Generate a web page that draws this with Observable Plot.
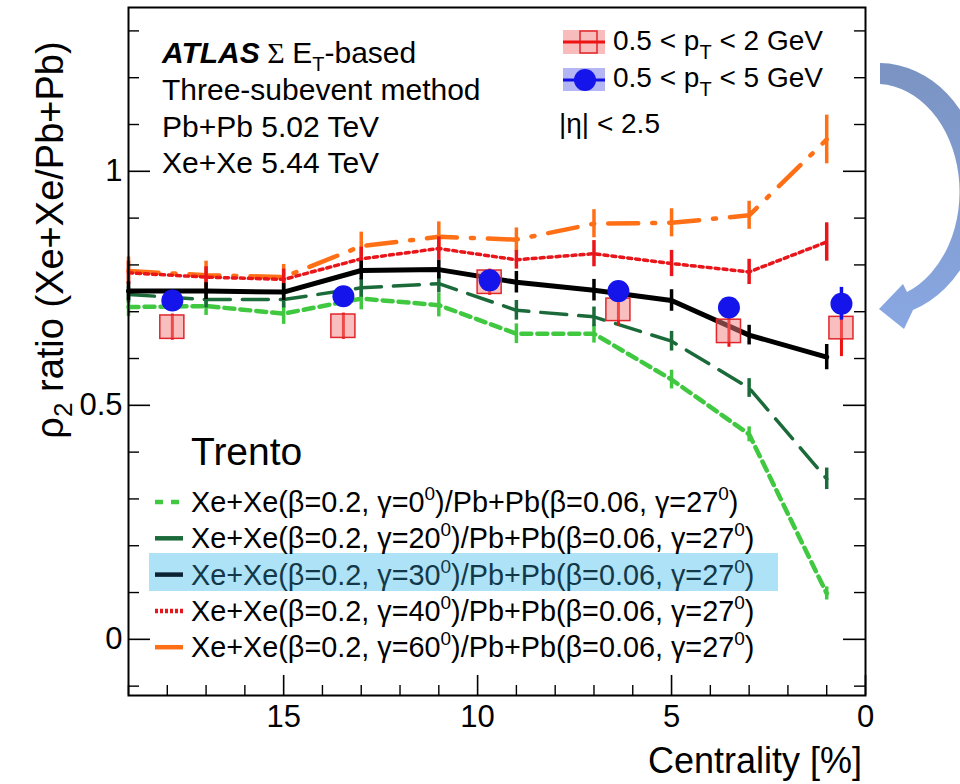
<!DOCTYPE html>
<html><head><meta charset="utf-8">
<script src="https://cdn.jsdelivr.net/npm/d3@7"></script>
<script src="https://cdn.jsdelivr.net/npm/@observablehq/plot@0.6"></script>
<style>
body{margin:0;background:#fff;}
#wrap{position:relative;width:960px;height:784px;overflow:hidden;}
#wrap svg{position:absolute;left:0;top:0;}
</style></head><body><div id="wrap"></div>
<script>
// ---------- data ----------
const modelX = [19, 17, 15, 13, 11, 9, 7, 5, 3, 1];
const gammaLabels = ["0", "20", "30", "40", "60"];
const g0   = [0.710, 0.712, 0.696, 0.728, 0.714, 0.653, 0.653, 0.555, 0.438, 0.098];
const g0Err = [0.020, 0.020, 0.023, 0.024, 0.025, 0.021, 0.020, 0.020, 0.016, 0.014];
const g20  = [0.737, 0.726, 0.726, 0.751, 0.760, 0.703, 0.689, 0.637, 0.537, 0.343];
const g20Err = [0.018, 0.018, 0.018, 0.020, 0.020, 0.021, 0.021, 0.021, 0.020, 0.023];
const g30  = [0.744, 0.744, 0.742, 0.788, 0.790, 0.763, 0.746, 0.724, 0.650, 0.603];
const g30Err = [0.020, 0.018, 0.018, 0.020, 0.020, 0.023, 0.023, 0.023, 0.021, 0.027];
const g40  = [0.783, 0.774, 0.769, 0.813, 0.835, 0.811, 0.824, 0.803, 0.785, 0.849];
const g40Err = [0.025, 0.022, 0.022, 0.025, 0.025, 0.020, 0.028, 0.028, 0.027, 0.041];
const g60  = [0.787, 0.778, 0.774, 0.840, 0.860, 0.854, 0.888, 0.890, 0.906, 1.068];
const g60Err = [0.030, 0.030, 0.027, 0.030, 0.032, 0.025, 0.030, 0.030, 0.030, 0.052];

const dataX = [17.87, 13.46, 9.69, 6.37, 3.52, 0.62];
const blueY = [0.724, 0.733, 0.767, 0.744, 0.709, 0.717];
const blueStat = [0.015, 0.015, 0.015, 0.015, 0.015, 0.035];
const redY = [0.667, 0.669, 0.763, 0.704, 0.658, 0.665];
const redStat = [0.028, 0.028, 0.028, 0.035, 0.034, 0.061];
const redSys = [0.025, 0.025, 0.025, 0.024, 0.025, 0.024];

const xTicks = [15, 10, 5, 0];
const xTickLabels = ["15", "10", "5", "0"];
const xMinor = [19, 18, 17, 16, 14, 13, 12, 11, 9, 8, 7, 6, 4, 3, 2, 1];
const yTicks = [0, 0.5, 1];
const yTickLabels = ["0", "0.5", "1"];
const yMinor = [-0.1, 0.1, 0.2, 0.3, 0.4, 0.6, 0.7, 0.8, 0.9, 1.1, 1.2, 1.3];

// ---------- styles ----------
const FONT = "'Liberation Sans', Arial, Helvetica, sans-serif";
const W = 960, H = 784, ML = 128, MR = 95, MT = 7, MB = 89;
const FW = W - ML - MR, FH = H - MT - MB;
const models = [
  {y: g0,  e: g0Err,  stroke: "#40c940", dash: "10,6",       w: 4.5, z: 2},
  {y: g20, e: g20Err, stroke: "#1b6b3a", dash: "26,12",      w: 3.5, z: 3},
  {y: g30, e: g30Err, stroke: "#000000", dash: null,         w: 5,   z: 5},
  {y: g40, e: g40Err, stroke: "#e8161b", dash: "4,4",        w: 3.5, z: 1},
  {y: g60, e: g60Err, stroke: "#ff6f16", dash: "30,14,3,14", w: 4.5, z: 0}
];
models.forEach((m, k) => { m.label = gammaLabels[k]; m.rows = modelX.map((x, i) => ({x, y: m.y[i], e: m.e[i]})); });
const drawOrder = [...models].sort((a, b) => a.z - b.z);

const redRows = dataX.map((x, i) => ({x, y: redY[i], stat: redStat[i], sys: redSys[i]}));
const blueRows = dataX.map((x, i) => ({x, y: blueY[i], stat: blueStat[i]}));
const boxHalf = 0.31;

const marks = [];
for (const m of drawOrder) {
  marks.push(Plot.line(m.rows, {x: "x", y: "y", stroke: m.stroke, strokeWidth: m.w, strokeDasharray: m.dash || undefined, strokeLinejoin: "miter"}));
  marks.push(Plot.ruleX(m.rows, {x: "x", y1: d => d.y - d.e, y2: d => d.y + d.e, stroke: m.stroke, strokeWidth: 3.5}));
}
marks.push(
  Plot.ruleX(redRows, {x: "x", y1: d => d.y - d.stat, y2: d => d.y + d.stat, stroke: "#ee1111", strokeWidth: 3}),
  Plot.rect(redRows, {x1: d => d.x + boxHalf, x2: d => d.x - boxHalf, y1: d => d.y - d.sys, y2: d => d.y + d.sys,
    fill: "#f47f7f", fillOpacity: 0.5, stroke: "#e0262b", strokeWidth: 1.5}),
  Plot.ruleX(blueRows, {x: "x", y1: d => d.y - d.stat, y2: d => d.y + d.stat, stroke: "#1010e6", strokeWidth: 3.5}),
  Plot.dot(blueRows, {x: "x", y: "y", r: 11, fill: "#1414eb", stroke: "none"}),
  // ROOT style inward ticks
  Plot.ruleY(yTicks, {insetRight: FW - 22, stroke: "#000", strokeWidth: 1.6}),
  Plot.ruleY(yMinor, {insetRight: FW - 11, stroke: "#000", strokeWidth: 1.4}),
  Plot.ruleY(yTicks, {insetLeft: FW - 22, stroke: "#000", strokeWidth: 1.6}),
  Plot.ruleY(yMinor, {insetLeft: FW - 11, stroke: "#000", strokeWidth: 1.4}),
  Plot.ruleX(xTicks, {insetTop: FH - 20, stroke: "#000", strokeWidth: 1.6}),
  Plot.ruleX(xMinor, {insetTop: FH - 10, stroke: "#000", strokeWidth: 1.4}),
  Plot.axisX(xTicks, {tickSize: 0, tickPadding: 9, label: null, tickFormat: d => xTickLabels[xTicks.indexOf(d)]}),
  Plot.axisY(yTicks, {tickSize: 0, tickPadding: 6, label: null, tickFormat: d => yTickLabels[yTicks.indexOf(d)]}),
  Plot.frame({stroke: "#000", strokeWidth: 2})
);

const chart = Plot.plot({
  width: W, height: H,
  marginLeft: ML, marginRight: MR, marginTop: MT, marginBottom: MB,
  style: {fontFamily: FONT, fontSize: "31px", background: "transparent", color: "#000"},
  x: {domain: [19, 0]},
  y: {domain: [-0.12, 1.35]},
  marks
});
const wrap = document.getElementById("wrap");
wrap.appendChild(chart);

// ---------- annotations overlay ----------
const svg = d3.select(wrap).append("svg").attr("width", W).attr("height", H)
  .style("font-family", FONT).style("pointer-events", "none");

// curved arrow
const grad = svg.append("defs").append("linearGradient").attr("id", "ag")
  .attr("gradientUnits", "userSpaceOnUse").attr("x1", 0).attr("y1", 60).attr("x2", 0).attr("y2", 330);
grad.append("stop").attr("offset", 0).attr("stop-color", "#7a93c2");
grad.append("stop").attr("offset", 1).attr("stop-color", "#89a7e2");
svg.append("path").attr("fill", "url(#ag)")
  .attr("d", "M880,63 A105,127 0 0 1 913,310 L904,329 L879,309 L903,284 L907,292 A84,108 0 0 0 880,84 Z");

// top-left text
const tl = svg.append("g").attr("font-size", 30);
const t1 = tl.append("text").attr("x", 162).attr("y", 63);
t1.append("tspan").attr("font-weight", "bold").attr("font-style", "italic").text("ATLAS");
t1.append("tspan").attr("font-family", "'Liberation Serif', 'DejaVu Serif', serif").text(" Σ ");
t1.append("tspan").text("E");
t1.append("tspan").attr("dy", 8).attr("font-size", 20).text("T");
t1.append("tspan").attr("dy", -8).text("-based");
["Three-subevent method", "Pb+Pb 5.02 TeV", "Xe+Xe 5.44 TeV"].forEach((s, i) =>
  tl.append("text").attr("x", 162).attr("y", 100 + i * 36.5).text(s));

// top-right legend
const lg = svg.append("g").attr("font-size", 28);
lg.append("rect").attr("x", 563).attr("y", 30).attr("width", 42).attr("height", 24).attr("fill", "#f9bcbc");
lg.append("rect").attr("x", 580).attr("y", 31).attr("width", 17).attr("height", 22).attr("fill", "none").attr("stroke", "#e0262b").attr("stroke-width", 1.5);
lg.append("line").attr("x1", 563).attr("x2", 605).attr("y1", 42).attr("y2", 42).attr("stroke", "#ee1111").attr("stroke-width", 3);
lg.append("rect").attr("x", 563).attr("y", 68).attr("width", 42).attr("height", 23).attr("fill", "#b3b6f3");
lg.append("line").attr("x1", 563).attr("x2", 605).attr("y1", 80).attr("y2", 80).attr("stroke", "#1010e6").attr("stroke-width", 3);
lg.append("circle").attr("cx", 585).attr("cy", 80).attr("r", 11).attr("fill", "#1414eb");
const ptMax = ["2", "5"];
ptMax.forEach((p, i) => {
  const t = lg.append("text").attr("x", 613).attr("y", 50 + i * 37);
  t.append("tspan").text("0.5 < p");
  t.append("tspan").attr("dy", 9).attr("font-size", 20).text("T");
  t.append("tspan").attr("dy", -9).text(" < " + p + " GeV");
});
lg.append("text").attr("x", 559).attr("y", 133).text("|η| < 2.5");

// Trento legend
const tr = svg.append("g");
tr.append("text").attr("x", 191).attr("y", 465).attr("font-size", 39).text("Trento");
tr.append("rect").attr("x", 149).attr("y", 553).attr("width", 629).attr("height", 38).attr("fill", "#aee2f6");
models.forEach((m, i) => {
  const y = 512 + i * 36.3;
  tr.append("line").attr("x1", 155).attr("x2", 183).attr("y1", y - 10).attr("y2", y - 10)
    .attr("stroke", i === 2 ? "#0b2233" : m.stroke).attr("stroke-width", 4.5)
    .attr("stroke-dasharray", i === 0 ? "8,8" : i === 3 ? "3,2" : null);
  const t = tr.append("text").attr("x", 191).attr("y", y).attr("font-size", 28.8).attr("fill", i === 2 ? "#12384a" : "#000");
  t.append("tspan").text(`Xe+Xe(β=0.2, γ=${m.label}`);
  t.append("tspan").attr("dy", -12).attr("font-size", 19).text("0");
  t.append("tspan").attr("dy", 12).text(")/Pb+Pb(β=0.06, γ=27");
  t.append("tspan").attr("dy", -12).attr("font-size", 19).text("0");
  t.append("tspan").attr("dy", 12).text(")");
});

// axis titles
const yl = svg.append("text").attr("transform", "translate(63,240) rotate(-90)").attr("text-anchor", "middle").attr("font-size", 38);
yl.append("tspan").text("ρ");
yl.append("tspan").attr("dy", 9).attr("font-size", 26).text("2");
yl.append("tspan").attr("dy", -9).text(" ratio (Xe+Xe/Pb+Pb)");
svg.append("text").attr("x", 862).attr("y", 773).attr("text-anchor", "end").attr("font-size", 36).text("Centrality [%]");
</script>
</body></html>
